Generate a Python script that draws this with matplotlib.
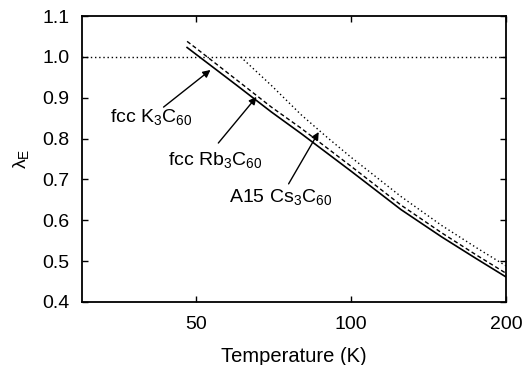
import matplotlib
matplotlib.use('Agg')
import matplotlib.pyplot as plt
from matplotlib.ticker import FixedLocator, NullLocator, FormatStrFormatter

plt.rcParams['font.family'] = ['Liberation Sans', 'DejaVu Sans']
plt.rcParams['mathtext.fontset'] = 'custom'
plt.rcParams['mathtext.rm'] = 'Liberation Sans'
plt.rcParams['mathtext.it'] = 'Liberation Sans:italic'

# values
T_k = [48, 50, 60, 70, 80, 100, 125, 150, 175, 200]
lam_k = [1.023, 1.006, 0.930, 0.865, 0.812, 0.720, 0.626, 0.559, 0.506, 0.461]

T_rb = [48, 50, 60, 70, 80, 100, 125, 150, 175, 200]
lam_rb = [1.038, 1.021, 0.943, 0.877, 0.825, 0.732, 0.637, 0.569, 0.515, 0.470]

T_cs = [61, 70, 80, 90, 100, 125, 150, 175, 200]
lam_cs = [1.0, 0.93, 0.858, 0.802, 0.754, 0.658, 0.587, 0.533, 0.488]

x_ticks = [50, 100, 200]
y_ticks = [0.4, 0.5, 0.6, 0.7, 0.8, 0.9, 1.0, 1.1]

labels = [r'fcc K$_\mathregular{3}$C$_\mathregular{60}$',
          r'fcc Rb$_\mathregular{3}$C$_\mathregular{60}$',
          r'A15 Cs$_\mathregular{3}$C$_\mathregular{60}$']
arrow_tips = [(53.3, 0.968), (65.5, 0.902), (86.5, 0.816)]
arrow_tails = [(43.2, 0.877), (55.2, 0.789), (75.6, 0.689)]
text_pos = [(34.0, 0.853), (44.1, 0.748), (57.8, 0.657)]

fig = plt.figure(figsize=(5.26, 3.65), dpi=100)
ax = fig.add_axes([0.156, 0.173, 0.806, 0.783])

ax.axhline(1.0, color='black', lw=1.0, ls=(0, (1, 2)))
ax.plot(T_k, lam_k, color='black', lw=1.2)
ax.plot(T_rb, lam_rb, color='black', lw=1.0, ls=(0, (3, 2)))
ax.plot(T_cs, lam_cs, color='black', lw=1.0, ls=(0, (1, 2)))

for lab, tip, tail, pos in zip(labels, arrow_tips, arrow_tails, text_pos):
    ax.annotate('', xy=tip, xytext=tail,
                arrowprops=dict(arrowstyle='-|>', color='black', lw=1.0,
                                mutation_scale=11, shrinkA=0, shrinkB=0))
    ax.text(pos[0], pos[1], lab, fontsize=14, ha='left', va='center')

ax.set_xscale('log')
ax.set_xlim(30, 200)
ax.set_ylim(0.4, 1.1)
ax.xaxis.set_major_locator(FixedLocator(x_ticks))
ax.xaxis.set_minor_locator(NullLocator())
ax.xaxis.set_major_formatter(FormatStrFormatter('%d'))
ax.set_yticks(y_ticks)
ax.yaxis.set_major_formatter(FormatStrFormatter('%.1f'))
ax.tick_params(direction='in', length=4, width=1, top=True, right=True,
               labelsize=14)
ax.tick_params(axis='y', pad=9)
ax.tick_params(axis='x', pad=10)
for s in ax.spines.values():
    s.set_linewidth(1.3)

ax.set_xlabel('Temperature (K)', fontsize=14.5, labelpad=10)
ax.set_ylabel(r'λ$_\mathregular{E}$', fontsize=14, labelpad=8)

fig.savefig('out.png', dpi=100)
